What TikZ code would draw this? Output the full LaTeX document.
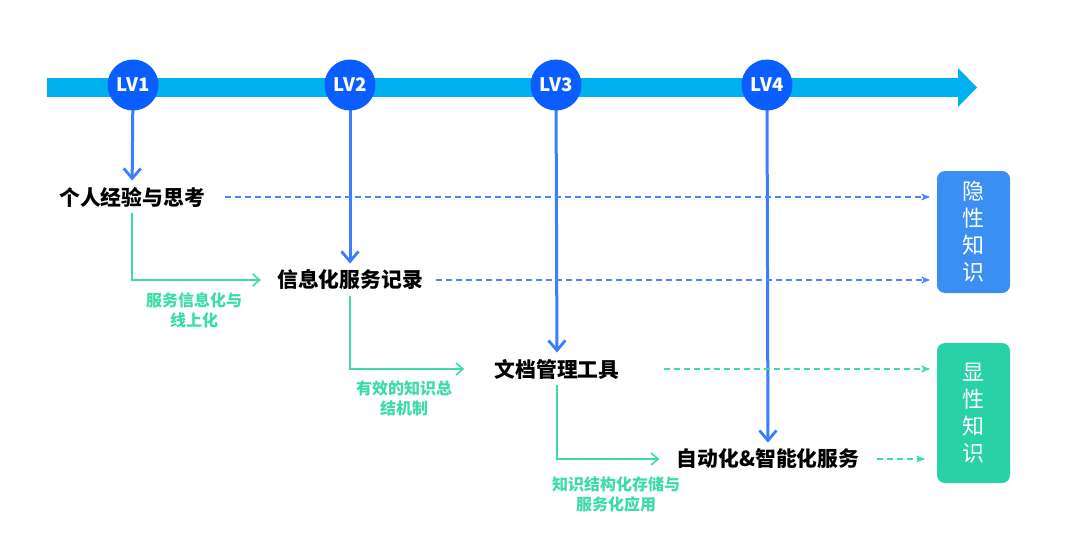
\documentclass[tikz,border=0pt]{standalone}
\usepackage{fontspec}
\setmainfont{Noto Sans CJK SC}
\usepackage{tikz}
\usetikzlibrary{arrows,arrows.meta}
\definecolor{barblue}{HTML}{00B0F0}
\definecolor{lvblue}{HTML}{0A5EFF}
\definecolor{arrowblue}{HTML}{3C7DFF}
\definecolor{dashblue}{HTML}{4A86FF}
\definecolor{flowgreen}{HTML}{3DDBA8}
\definecolor{tacitblue}{HTML}{3B8FF2}
\definecolor{explicitgreen}{HTML}{28D2A6}
\tikzset{
	lv node/.style={circle,fill=lvblue,text=white,minimum size=25.5pt,inner sep=0pt,font=\fontsize{9.3}{10}\selectfont\bfseries},
	stage node/.style={inner sep=3pt,font=\fontsize{10.4}{12}\selectfont\bfseries},
	note node/.style={text=flowgreen,align=center,font=\fontsize{8}{10}\selectfont\bfseries},
	kind node/.style={rounded corners=4pt,text=white,align=center,minimum width=36.5pt,font=\fontsize{11}{13.5}\selectfont}
}

\begin{document}
\begin{tikzpicture}[x=0.5pt,y=-0.5pt,
            down arrow/.style={->,>={Straight Barb[length=5pt,width=8.5pt,line width=1.4pt]},draw=arrowblue,line width=1.5pt},
            flow arrow/.style={->,>={Straight Barb[length=3.5pt,width=6pt]},draw=flowgreen,line width=0.8pt},
            dash arrow/.style={->,>=stealth',line width=0.55pt,dash pattern=on 3pt off 2pt}]
            \useasboundingbox (0,0) rectangle (1080,535);
            % time axis
            \fill[barblue] (47,78) rectangle (958,97);
            \fill[barblue] (958,68) -- (977,87.5) -- (958,107) -- cycle;
            \node [kind node,fill=tacitblue,minimum height=61pt] (tacit) at (973.5,232) {隐\\性\\知\\识};
            \node [kind node,fill=explicitgreen,minimum height=70pt] (explicit) at (973.5,413) {显\\性\\知\\识};
            \node [stage node] (s1) at (132,197) {个人经验与思考};
            \node [stage node] (s2) at (350,280) {信息化服务记录};
            \node [stage node] (s3) at (557,369) {文档管理工具};
            \node [stage node] (s4) at (768,459) {自动化\&智能化服务};
            \foreach \i/\x/\s in {1/133/s1,2/350/s2,3/556/s3,4/767/s4}{
              \draw [down arrow] (\x,86) -- (\s);
              \node [lv node] (lv\i) at (\x,85) {LV\i};
            }
            \draw [flow arrow,shorten >=5pt] (s1.south) |- (s2.west);
            \draw [flow arrow,shorten >=12pt] (s2.south) |- (s3.west);
            \draw [flow arrow,shorten >=5.5pt] (s3.south) |- (s4.west);
            \node [note node] (n1) at (194,310) {服务信息化与\\线上化};
            \node [note node] (n2) at (404,398) {有效的知识总\\结机制};
            \node [note node] (n3) at (616,494) {知识结构化存储与\\服务化应用};
            \draw [dash arrow,dashblue,shorten <=7pt,shorten >=3.5pt] (s1.east) -- (s1.east -| tacit.west);
            \draw [dash arrow,dashblue,shorten <=3.5pt,shorten >=3.5pt] (s2.east) -- (s2.east -| tacit.west);
            \draw [dash arrow,flowgreen,shorten <=19pt,shorten >=3.5pt] (s3.east) -- (s3.east -| explicit.west);
            \draw [dash arrow,flowgreen,shorten <=5.5pt,shorten >=6pt] (s4.east) -- (s4.east -| explicit.west);
          \end{tikzpicture}
\end{document}
